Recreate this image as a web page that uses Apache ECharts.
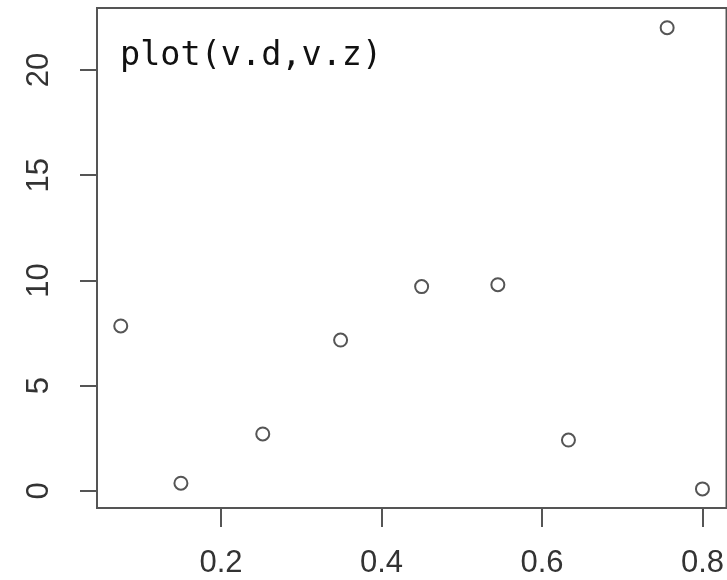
<!DOCTYPE html>
<html>
<head>
<meta charset="utf-8">
<script src="https://cdn.jsdelivr.net/npm/echarts@6/dist/echarts.min.js"></script>
<style>
html,body{margin:0;padding:0;background:#fff;}
#chart{width:727px;height:580px;}
</style>
</head>
<body>
<div id="chart"></div>
<script>
var vd = [0.075, 0.150, 0.252, 0.349, 0.450, 0.545, 0.633, 0.756, 0.800];
var vz = [7.84, 0.37, 2.71, 7.17, 9.71, 9.80, 2.42, 22.01, 0.10];
var xTicks = [0.2, 0.4, 0.6, 0.8];
var yTicks = [0, 5, 10, 15, 20];
var annotation = 'plot(v.d,v.z)';

var points = vd.map(function (x, i) { return [x, vz[i]]; });

var chart = echarts.init(document.getElementById('chart'), null, {renderer: 'canvas'});
chart.setOption({
  animation: false,
  backgroundColor: '#ffffff',
  grid: {
    left: 97, top: 8, width: 634, height: 500,
    show: true, borderColor: '#555', borderWidth: 2, backgroundColor: 'transparent'
  },
  xAxis: {
    type: 'value', min: 0.0454, max: 0.83,
    splitLine: {show: false},
    axisLine: {show: true, onZero: false, lineStyle: {color: '#555', width: 2}},
    axisTick: {show: true, customValues: xTicks, length: 19, inside: false, lineStyle: {color: '#555', width: 2}},
    axisLabel: {
      customValues: xTicks, margin: 40,
      fontFamily: 'Liberation Sans', fontSize: 31, color: '#333',
      formatter: function (v) { return String(v); }
    }
  },
  yAxis: {
    type: 'value', min: -0.808, max: 22.945,
    splitLine: {show: false},
    axisLine: {show: true, onZero: false, lineStyle: {color: '#555', width: 2}},
    axisTick: {show: true, customValues: yTicks, length: 17, inside: false, lineStyle: {color: '#555', width: 2}},
    axisLabel: {
      customValues: yTicks, margin: 42, rotate: 90,
      fontFamily: 'Liberation Sans', fontSize: 31, color: '#333',
      formatter: function (v) { return String(v); }
    }
  },
  graphic: [{
    type: 'text', left: 120, top: 39, z: 10,
    style: {text: annotation, font: '33.5px "DejaVu Sans Mono"', fill: '#111'}
  }],
  series: [{
    type: 'scatter',
    data: points,
    symbol: 'circle',
    symbolSize: 13,
    itemStyle: {color: '#fff', borderColor: '#555', borderWidth: 2, opacity: 1},
    emphasis: {disabled: true}
  }]
});
</script>
</body>
</html>
